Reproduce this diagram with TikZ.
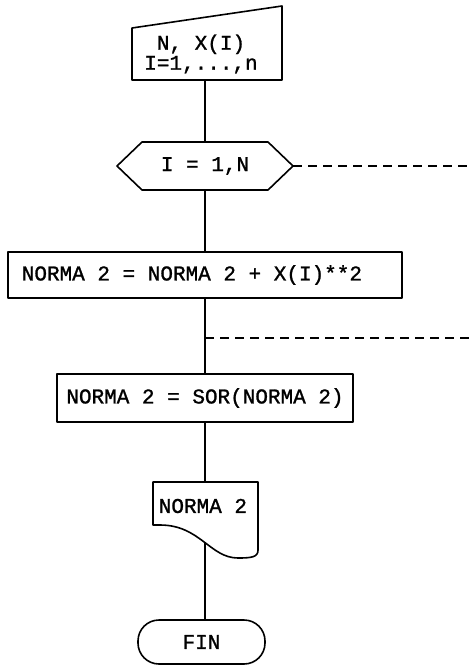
\documentclass[tikz,border=0pt]{standalone}
\usepackage{fontspec}
\setmainfont{Liberation Mono}[FakeBold=1]
\newfontfamily\typew{Liberation Mono}[FakeBold=1.2]
\begin{document}
\begin{tikzpicture}[x=1pt,y=-1pt,
  line width=1.6pt,
  shp/.style={draw=black, line join=round},
  txt/.style={inner sep=0pt, font=\typew\fontsize{21}{20}\selectfont},
  conn/.style={draw=black},
  dsh/.style={draw=black, dash pattern=on 9pt off 6pt}]
\useasboundingbox (0,0) rectangle (469,666);
% manual input
\draw[shp] (132,28) -- (282,6) -- (282,80) -- (132,80) -- cycle;
\coordinate (inB) at (205,80);
\node[txt, align=center] (inT) at (201,54) {N, X(I)\\I=1,...,n};
% loop hexagon
\draw[shp] (117,166) -- (142,142) -- (268,142) -- (293,166) -- (268,190) -- (142,190) -- cycle;
\coordinate (hexT) at (205,142);
\coordinate (hexB) at (205,190);
\coordinate (hexR) at (293,166);
\coordinate (hexE) at (469,166);
\node[txt] (hexL) at (205,166) {I = 1,N};
% box 1
\node[shp, minimum width=394pt, minimum height=46pt, inner sep=0pt] (b1) at (205,275) {};
\node[txt, anchor=west] (b1t) at (21,275) {NORMA 2 = NORMA 2 + X(I)**2};
% box 2
\node[shp, minimum width=296pt, minimum height=48pt, inner sep=0pt, txt] (b2) at (205,398) {NORMA 2 = SOR(NORMA 2)};
\coordinate (j) at (205,338);
\coordinate (jE) at (469,338);
% document
\draw[shp] (153,482) -- (258,482) -- (258,550) .. controls (258,557) and (252,558) .. (238,558)
  .. controls (210,558) and (200,525) .. (160,525) -- (153,525) -- cycle;
\coordinate (docT) at (205,482);
\coordinate (docB) at (205,543);
\node[txt, anchor=west] (docL) at (158,506) {NORMA 2};
% terminal
\node[shp, rounded corners=21pt, minimum width=127pt, minimum height=44pt, inner sep=0pt, txt] (fin) at (201.5,642) {FIN};
% connectors
\draw[conn] (inB) -- (hexT);
\draw[dsh] (hexR) -- (hexE);
\draw[conn] (hexB) -- (b1.north -| hexB);
\draw[conn] (b1.south -| hexB) -- (b2.north -| hexB);
\draw[dsh] (j) -- (jE);
\draw[conn] (b2.south -| hexB) -- (docT);
\draw[conn] (docB) -- (fin.north -| docB);
\end{tikzpicture}
\end{document}
